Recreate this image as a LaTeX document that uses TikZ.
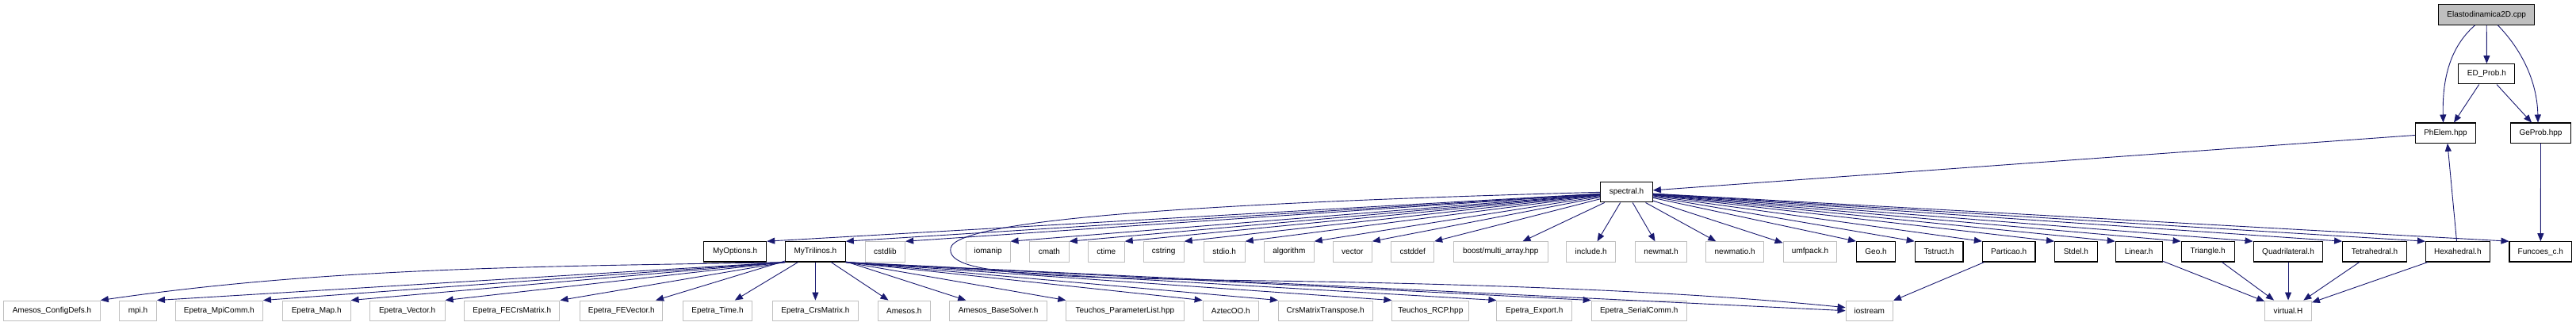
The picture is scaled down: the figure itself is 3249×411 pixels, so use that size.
\documentclass[tikz,border=0pt]{standalone}
\usepackage{fontspec}
\setmainfont{Liberation Sans}
\usetikzlibrary{arrows.meta}
\definecolor{edgec}{HTML}{191970}
\definecolor{greyb}{HTML}{BFBFBF}
\begin{document}
\begin{tikzpicture}[x=1pt,y=-1pt,
  box/.style={rectangle, minimum height=25.3pt, inner sep=0pt, fill=white, font=\fontsize{10}{12}\selectfont},
  doc/.style={box, draw=black, line width=1.1pt},
  sys/.style={box, draw=greyb, line width=1pt},
  root/.style={doc, fill=greyb},
  edge/.style={draw=edgec, line width=0.9pt, -{Triangle[length=10pt,width=8pt]}}]
\fill[white] (0,0) rectangle (3249,411);
\useasboundingbox (0,0) rectangle (3249,411);
% row 0-3
\node[root, minimum width=121pt] (elasto) at (3136.2,18.5) {Elastodinamica2D.cpp};
\node[doc, minimum width=71pt] (edprob) at (3136.4,93.3) {ED\_Prob.h};
\node[doc, minimum width=75.6pt] (phelem) at (3084.5,167.7) {PhElem.hpp};
\node[doc, minimum width=75.6pt] (geprob) at (3204.5,167.7) {GeProb.hpp};
\node[doc, minimum width=65.6pt] (spectral) at (2051.5,242.3) {spectral.h};
% row 4
\node[doc, minimum width=79.2pt] (myoptions) at (927.1,317.4) {MyOptions.h};
\node[doc, minimum width=75.7pt] (mytrilinos) at (1028.4,317.4) {MyTrilinos.h};
\node[sys, minimum width=50.5pt] (cstdlib) at (1116.4,317.4) {cstdlib};
\node[sys, minimum width=55.9pt] (iomanip) at (1246.1,317.4) {iomanip};
\node[sys, minimum width=49.8pt] (cmath) at (1323.4,317.4) {cmath};
\node[sys, minimum width=46pt] (ctime) at (1395.2,317.4) {ctime};
\node[sys, minimum width=51pt] (cstring) at (1467.7,317.4) {cstring};
\node[sys, minimum width=52pt] (stdio) at (1544.2,317.4) {stdio.h};
\node[sys, minimum width=62.8pt] (algorithm) at (1625.8,317.4) {algorithm};
\node[sys, minimum width=49pt] (vector) at (1705.8,317.4) {vector};
\node[sys, minimum width=53.9pt] (cstddef) at (1781.7,317.4) {cstddef};
\node[sys, minimum width=119pt] (boost) at (1892.7,317.4) {boost/multi\_array.hpp};
\node[sys, minimum width=62.5pt] (include) at (2006.7,317.4) {include.h};
\node[sys, minimum width=65.2pt] (newmat) at (2095.1,317.4) {newmat.h};
\node[sys, minimum width=72.8pt] (newmatio) at (2188.2,317.4) {newmatio.h};
\node[sys, minimum width=67.9pt] (umfpack) at (2283,317.4) {umfpack.h};
\node[doc, minimum width=49.1pt] (geo) at (2366,317.4) {Geo.h};
\node[doc, minimum width=60.7pt] (tstruct) at (2445.6,317.4) {Tstruct.h};
\node[doc, minimum width=66.6pt] (particao) at (2533.7,317.4) {Particao.h};
\node[doc, minimum width=53.5pt] (stdel) at (2618.3,317.4) {Stdel.h};
\node[doc, minimum width=58.8pt] (linear) at (2697.7,317.4) {Linear.h};
\node[doc, minimum width=67pt] (triangle) at (2784.6,317.4) {Triangle.h};
\node[doc, minimum width=87.8pt] (quad) at (2886,317.4) {Quadrilateral.h};
\node[doc, minimum width=80.7pt] (tetra) at (2995,317.4) {Tetrahedral.h};
\node[doc, minimum width=80.7pt] (hexa) at (3099.8,317.4) {Hexahedral.h};
\node[doc, minimum width=78.6pt] (funcoes) at (3204.3,317.4) {Funcoes\_c.h};
% row 5
\node[sys, minimum width=121.7pt] (configdefs) at (65.5,391.7) {Amesos\_ConfigDefs.h};
\node[sys, minimum width=47pt] (mpi) at (174,391.7) {mpi.h};
\node[sys, minimum width=110.2pt] (mpicomm) at (276.3,391.7) {Epetra\_MpiComm.h};
\node[sys, minimum width=85.7pt] (map) at (399.2,391.7) {Epetra\_Map.h};
\node[sys, minimum width=94.9pt] (evector) at (513.6,391.7) {Epetra\_Vector.h};
\node[sys, minimum width=120.3pt] (fecrs) at (645.8,391.7) {Epetra\_FECrsMatrix.h};
\node[sys, minimum width=104.3pt] (fevector) at (783.8,391.7) {Epetra\_FEVector.h};
\node[sys, minimum width=86.7pt] (etime) at (905,391.7) {Epetra\_Time.h};
\node[sys, minimum width=108pt] (crsmatrix) at (1028.4,391.7) {Epetra\_CrsMatrix.h};
\node[sys, minimum width=66.2pt] (amesos) at (1140.3,391.7) {Amesos.h};
\node[sys, minimum width=123.2pt] (basesolver) at (1259.1,391.7) {Amesos\_BaseSolver.h};
\node[sys, minimum width=148.2pt] (teuchospl) at (1418.9,391.7) {Teuchos\_ParameterList.hpp};
\node[sys, minimum width=70.4pt] (aztecoo) at (1552.3,391.7) {AztecOO.h};
\node[sys, minimum width=118.6pt] (crstranspose) at (1671.7,391.7) {CrsMatrixTranspose.h};
\node[sys, minimum width=96.8pt] (teuchosrcp) at (1804.3,391.7) {Teuchos\_RCP.hpp};
\node[sys, minimum width=94.6pt] (export) at (1935.2,391.7) {Epetra\_Export.h};
\node[sys, minimum width=120.1pt] (serialcomm) at (2067.2,391.7) {Epetra\_SerialComm.h};
\node[sys, minimum width=59.4pt] (iostream) at (2357.8,391.7) {iostream};
\node[sys, minimum width=58.8pt] (virtual) at (2886,391.7) {virtual.H};
% top edges
\draw[edge] ([xshift=-14.5pt]elasto.south) .. controls (3095,55) and (3080,90) .. ([xshift=-3pt]phelem.north);
\draw[edge] (elasto) -- (edprob);
\draw[edge] ([xshift=14pt]elasto.south) .. controls (3178,60) and (3200,100) .. ([xshift=-3.5pt]geprob.north);
\draw[edge] ([xshift=-9.7pt]edprob.south) -- ([xshift=10.5pt]phelem.north);
\draw[edge] ([xshift=12.6pt]edprob.south) -- ([xshift=-11.5pt]geprob.north);
\draw[edge] (phelem) -- (spectral);
\draw[edge] (geprob) -- (funcoes);
\draw[edge] ([xshift=-1.3pt]hexa.north) -- ([xshift=2.4pt]phelem.south);
% spectral.h fan
\foreach \t in {myoptions,mytrilinos,cstdlib,iomanip,cmath,ctime,cstring,stdio,algorithm,vector,cstddef}
  \draw[edge] (spectral) -- (\t.north east);
\foreach \t in {boost,include,newmat,newmatio,umfpack}
  \draw[edge] (spectral) -- (\t);
\foreach \t in {geo,tstruct,particao,stdel,linear,triangle,quad,tetra,hexa,funcoes}
  \draw[edge] (spectral) -- (\t.north west);
\draw[edge] (spectral.west) .. controls (1550,255) and (1205,275) .. (1199,313)
  .. controls (1194,345) and (1300,350) .. (1600,354)
  .. controls (2000,360) and (2200,375) .. ([yshift=4pt]iostream.west);
% MyTrilinos fan
\draw[edge] (mytrilinos.south west) .. controls (700,336) and (420,336) .. (configdefs.north east);
\foreach \t in {mpi,mpicomm,map,evector,fecrs}
  \draw[edge] (mytrilinos.south west) -- (\t.north east);
\foreach \t in {fevector,etime,crsmatrix,amesos,basesolver}
  \draw[edge] (mytrilinos) -- (\t);
\foreach \t in {teuchospl,aztecoo,crstranspose,teuchosrcp,export,serialcomm}
  \draw[edge] (mytrilinos.south east) -- (\t.north west);
\draw[edge] (mytrilinos.south east) -- (iostream.west);
% others
\draw[edge] (particao) -- (iostream);
\foreach \t in {linear,triangle,quad,tetra,hexa}
  \draw[edge] (\t) -- (virtual);
\end{tikzpicture}
\end{document}
